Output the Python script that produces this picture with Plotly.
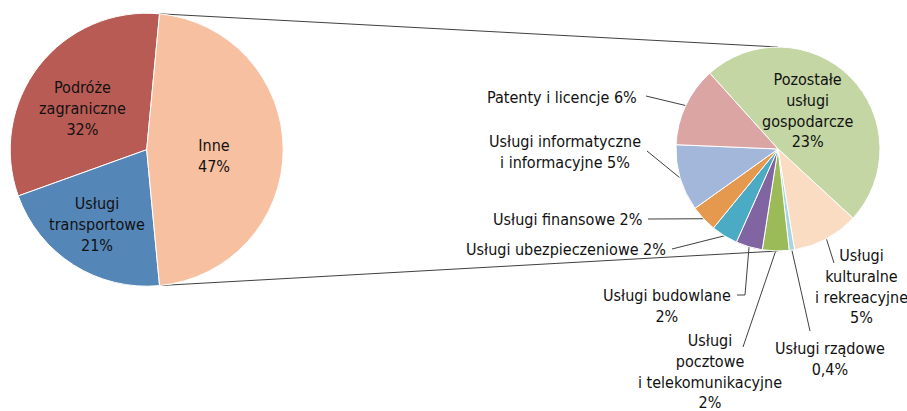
import math
import plotly.graph_objects as go

W, H = 907, 411

# ---- data ----
main_labels = ["Podróże<br>zagraniczne", "Usługi<br>transportowe", "Inne"]
main_values = [32, 21, 47]

sub_labels = [
    "Pozostałe<br>usługi<br>gospodarcze",
    "Usługi<br>kulturalne<br>i rekreacyjne",
    "Usługi rządowe",
    "Usługi<br>pocztowe<br>i telekomunikacyjne",
    "Usługi budowlane",
    "Usługi ubezpieczeniowe",
    "Usługi finansowe",
    "Usługi informatyczne<br>i informacyjne",
    "Patenty i licencje",
]
sub_values = [23, 5, 0.4, 2, 2, 2, 2, 5, 6]

# ---- styles ----
main_colors = ["#B95B55", "#5586B8", "#F7C1A1"]
sub_colors = ["#C4D6A4", "#FADCC2", "#A5D5E3", "#9BBB59", "#8165A2",
              "#4BABC5", "#E5994F", "#A2B7D9", "#DBA5A4"]
FONT = "DejaVu Sans Condensed, Liberation Sans, sans-serif"
FS = 16
TXT = "#111111"
LINE = "#404040"

L_CX, L_CY, L_R = 146.7, 149.7, 136.5
R_CX, R_CY, R_R = 778.0, 149.0, 102.0

main_sep = ["<br>", "<br>", "<br>"]
main_pos = [(82, 108), (97, 224), (214, 156)]

sub_sep = ["<br>", "<br>", "<br>", "<br>", "<br>", " ", " ", " ", " "]
# (x, y, xanchor)
sub_pos = [(807, 110, "center"), (861, 286, "center"), (830, 359, "center"),
           (710, 371, "center"), (667, 306, "center"), (668, 249, "right"),
           (644, 219, "right"), (565, 152, "center"), (639, 97, "right")]
# leader path points (after edge point); None = inside label
sub_leader = [None, [(834, 263)], [(810, 331)], [(743, 347)],
              [(745, 295), (737, 295)], [(672, 249)], [(648, 219)],
              [(647, 151)], [(646, 96)]]


def pct(v):
    return (f"{v:g}").replace(".", ",") + "%"


def dom(cx, cy, r):
    return dict(x=[(cx - r) / W, (cx + r) / W], y=[1 - (cy + r) / H, 1 - (cy - r) / H])


def pt(cx, cy, r, ang):
    a = math.radians(ang)
    return cx + r * math.sin(a), cy - r * math.cos(a)


tot_m = sum(main_values)
# "Inne" centred on the right-hand side, drawn counterclockwise
rot_L = 90 + (main_values[2] / 2 + main_values[1]) / tot_m * 360
rot_R = -42.0
tot_s = sum(sub_values)

fig = go.Figure()
fig.add_trace(go.Pie(
    labels=[l.replace("<br>", " ") for l in main_labels], values=main_values,
    sort=False, direction="counterclockwise", rotation=rot_L,
    marker=dict(colors=main_colors, line=dict(color="white", width=1)),
    textinfo="none", domain=dom(L_CX, L_CY, L_R), showlegend=False,
))
fig.add_trace(go.Pie(
    labels=[l.replace("<br>", " ") for l in sub_labels], values=sub_values,
    sort=False, direction="clockwise", rotation=rot_R,
    marker=dict(colors=sub_colors, line=dict(color="white", width=1)),
    textinfo="none", domain=dom(R_CX, R_CY, R_R), showlegend=False,
))

# connector lines between pies (edges of "Inne")
a_hi = rot_L - main_values[1] / tot_m * 360
a_lo = a_hi - main_values[2] / tot_m * 360
p_top = pt(L_CX, L_CY, L_R, a_lo)
p_bot = pt(L_CX, L_CY, L_R, a_hi)
for p, q in [(p_top, (R_CX, R_CY - R_R)), (p_bot, (R_CX, R_CY + R_R))]:
    fig.add_trace(go.Scatter(x=[p[0], q[0]], y=[p[1], q[1]], mode="lines",
                             line=dict(color=LINE, width=1), hoverinfo="skip",
                             showlegend=False))

ann = []
for lab, v, s, (x, y) in zip(main_labels, main_values, main_sep, main_pos):
    ann.append(dict(x=x, y=y, xref="x", yref="y", text=lab + s + pct(v),
                    showarrow=False, xanchor="center", yanchor="middle",
                    align="center", font=dict(family=FONT, size=FS, color=TXT)))

cum = 0.0
for i, (lab, v) in enumerate(zip(sub_labels, sub_values)):
    mid = rot_R + (cum + v / 2) / tot_s * 360
    cum += v
    x, y, xa = sub_pos[i]
    ann.append(dict(x=x, y=y, xref="x", yref="y", text=lab + sub_sep[i] + pct(v),
                    showarrow=False, xanchor=xa, yanchor="middle",
                    align="center" if xa == "center" else "right",
                    font=dict(family=FONT, size=FS, color=TXT)))
    if sub_leader[i]:
        e = pt(R_CX, R_CY, R_R, mid)
        xs = [e[0]] + [p[0] for p in sub_leader[i]]
        ys = [e[1]] + [p[1] for p in sub_leader[i]]
        fig.add_trace(go.Scatter(x=xs, y=ys, mode="lines",
                                 line=dict(color=LINE, width=1), hoverinfo="skip",
                                 showlegend=False))

fig.update_layout(
    width=W, height=H, margin=dict(l=0, r=0, t=0, b=0),
    paper_bgcolor="white", plot_bgcolor="rgba(0,0,0,0)",
    xaxis=dict(range=[0, W], visible=False, fixedrange=True),
    yaxis=dict(range=[H, 0], visible=False, fixedrange=True),
    annotations=ann, font=dict(family=FONT),
)
fig.write_html(
    "out.html",
    config={"displayModeBar": False},
    post_script="document.body.style.margin='0';document.body.style.padding='0';",
)
